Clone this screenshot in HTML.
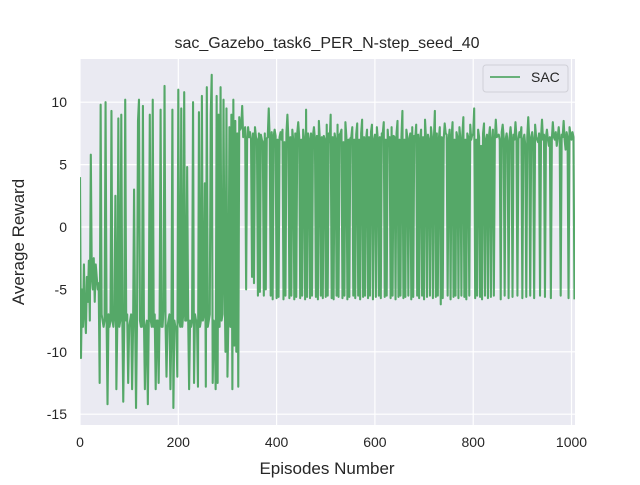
<!DOCTYPE html>
<html><head><meta charset="utf-8"><style>
body{margin:0;background:#fff;}
svg text{font-family:"Liberation Sans","DejaVu Sans",sans-serif;fill:#262626;}
</style></head><body>
<svg id="chart" width="640" height="480">
<rect x="0" y="0" width="640" height="480" fill="#fff"/>
<rect x="80" y="59" width="495" height="366" fill="#eaeaf2"/>
<g id="grid"></g>
<g id="ticks"></g>
<clipPath id="clip"><rect x="80" y="59" width="495" height="366"/></clipPath>
<polyline id="line" clip-path="url(#clip)" fill="none" stroke="#55a868" stroke-width="2.1" stroke-linejoin="round"/>
<text x="327" y="48" font-size="16" text-anchor="middle">sac_Gazebo_task6_PER_N-step_seed_40</text>
<text x="327" y="474" font-size="17" text-anchor="middle">Episodes Number</text>
<text x="24" y="242" font-size="17" text-anchor="middle" transform="rotate(-90 24 242)">Average Reward</text>
<g>
<rect x="483" y="65" width="85" height="27" rx="3" fill="#eaeaf2" stroke="#d0d0d8"/>
<line x1="490" y1="77" x2="520" y2="77" stroke="#55a868" stroke-width="1.7"/>
<text x="531" y="82" font-size="14">SAC</text>
</g>
</svg>
<script>
const xTicks=[0,200,400,600,800,1000];
const yTicks=[10,5,0,-5,-10,-15];
const xStep=2;
const rewards=[
4,-10.5,-5,-8,-3,-7,-8.5,-4,-6,-2.7,-7.5,5.8,-4,-5,-2.5,-6,-3,-4,-5,-4.5,
-12.5,9.8,-7,-7.5,-8,-7.5,10,-7,-14.2,-7,-8,-7.5,9.3,-7.5,-8,-7,2.5,-13,-7.5,8.7,
-8,-7.5,9,-7,-14,-8,10.2,-7.5,-7,-12.5,-8,-7.5,-7,-13,-8,3,-7,-14.5,-7.5,8.5,
10.2,-7.5,-8,-8,9.7,-7,-13,-8,-7.5,-14.2,-7.2,9,-7.5,-8,10.2,-8,-7,-13,-7.5,-7.5,
-12.5,-7,9.4,-8,-8,-6.5,11.3,-7.5,-12,-8,-7.5,-7,-13,-8,9.4,-14.5,-7.5,-8,-8,-12,
11,-7.5,-8,9.5,-8,-7,10.8,-7.5,-7.5,4.8,-7,-13,-7.5,-8,-7.5,10,-12.5,-7,-7.5,-7.5,
-12.8,9.2,-8,-7.5,10.5,-7.5,-7,3.5,-12.8,11.2,-8,-7.5,-7,9,12.2,-12.5,-7.5,-8,-13,10.5,
-12.5,9,-8,11.2,-7.5,-7,10.2,-4,-10,9.5,-12,-7,8,-8,9,-13,10.2,-9.5,8.5,-10,
7.5,-12.8,8.8,7.8,8,9.7,7.2,7.5,8,-5,7,8,7.2,7.6,7,-4,7.5,-4.5,8,7.2,
7,-5.5,7.5,-5.2,7.4,7,6.8,-5.5,7.5,-5,7.1,7.2,9.5,7,-5.5,7.6,-5.8,7.3,7.8,7.3,
-5.7,7,-5.6,7.2,7.6,7,7.8,-5.8,6.8,-5.5,7.5,9,7,-5.7,7.2,-5.5,7.8,6.9,-5.8,7.5,
-5.6,7.5,8.4,7.2,-5.7,7,-5.5,7.8,7,-5.8,9.4,-5.6,7.5,7,-5.7,7.5,-5.5,7.3,8,7,
-5.6,7.3,-5.8,8.5,7,-5.5,7.2,-5.7,7.3,7,-5.6,8.2,-5.5,7.5,6.8,9,-5.7,7.2,-5.8,7.5,
7,-5.5,8.2,-5.6,7.4,7.5,7.8,-5.7,6.8,-5.5,8.4,7.2,-5.8,7,-5.6,7.1,7.2,8,-5.5,7,
-5.7,7.4,8.3,-5.5,7,-5.8,7.5,8.6,-5.6,7.2,-5.5,7,7.8,-5.7,7.2,-5.5,7.6,8.2,-5.8,7,
7.4,-5.6,8,7,-5.5,7.2,-5.7,7.5,7.5,8.4,-5.6,7,-5.5,7.8,6.5,7.2,-5.7,8,-5.5,7.3,
7.2,-5.8,7.5,8.5,-5.6,7,-5.5,7.2,9.3,-5.7,7,-5.6,7.8,7.2,-5.5,7,7.5,-5.8,8,-5.6,
7.3,7,8.2,-5.5,7.4,-5.7,7,7.8,-5.5,7.2,-5.8,8.6,7,-5.6,7.4,7,-5.5,8,7.2,-5.7,
7,9.3,-5.6,7.5,-5.5,7,8,-6.2,7.2,-5.7,7,8.3,7.5,7.4,-5.5,7,7.8,-5.8,7.2,8.4,
-5.6,7,-5.5,7.6,7.2,-5.7,8,7,-5.5,7.4,8.8,-5.6,7,-5.8,7.5,7.2,-5.5,8.2,7,7.4,
7.4,9.5,-5.7,7,-5.5,7.8,7.2,-5.6,6.5,-5.8,7.5,8.3,-5.5,7,7.4,-5.7,7.2,8,-5.6,7,
7.8,-5.5,7,8.6,7.2,7.3,7.4,7,-5.8,7.6,8.2,7.2,-5.5,7,7.5,6.8,-5.7,7.2,8,7,
-5.6,7.4,7,8.4,7.2,-5.5,7,7.6,7.2,8,-5.7,7,7.4,6.5,-5.6,7.2,8.8,7,-5.5,7.2,
7.6,7,-5.7,8.2,7.2,7,6.8,7.5,-5.5,7.2,8.6,7,7.4,-5.6,7.2,7.8,7,6.5,7.2,-5.7,
7,8.4,7.2,7,7.6,6.5,7.2,8,7,-5.5,7.4,7.2,8.5,7,6.2,7.6,7.2,-5.7,8,7.4,7,7.6,7.2,-5.8
];
const NS='http://www.w3.org/2000/svg';
const X0=80,PX=0.4915,Y0=227,PY=12.48;
function sx(v){return X0+v*PX;}
function sy(v){return Y0-v*PY;}
const grid=document.getElementById('grid'),ticks=document.getElementById('ticks');
xTicks.forEach(t=>{
  const l=document.createElementNS(NS,'line');
  l.setAttribute('x1',sx(t));l.setAttribute('x2',sx(t));l.setAttribute('y1',59);l.setAttribute('y2',425);
  l.setAttribute('stroke','#fff');l.setAttribute('stroke-width','1.2');
  
  
  grid.appendChild(l);
  const tx=document.createElementNS(NS,'text');
  tx.setAttribute('x',sx(t));tx.setAttribute('y',447);tx.setAttribute('font-size','14');tx.setAttribute('text-anchor','middle');
  tx.textContent=t;
  
  
  ticks.appendChild(tx);
});
yTicks.forEach(t=>{
  const l=document.createElementNS(NS,'line');
  l.setAttribute('x1',80);l.setAttribute('x2',575);l.setAttribute('y1',sy(t));l.setAttribute('y2',sy(t));
  l.setAttribute('stroke','#fff');l.setAttribute('stroke-width','1.2');
  
  
  grid.appendChild(l);
  const tx=document.createElementNS(NS,'text');
  tx.setAttribute('x',67);tx.setAttribute('y',sy(t)+5);tx.setAttribute('font-size','14');tx.setAttribute('text-anchor','end');
  tx.textContent=t;
  
  
  ticks.appendChild(tx);
});
document.getElementById('line').setAttribute('points',rewards.map((v,i)=>sx(i*xStep).toFixed(2)+','+sy(v).toFixed(2)).join(' '));
</script>
</body></html>
